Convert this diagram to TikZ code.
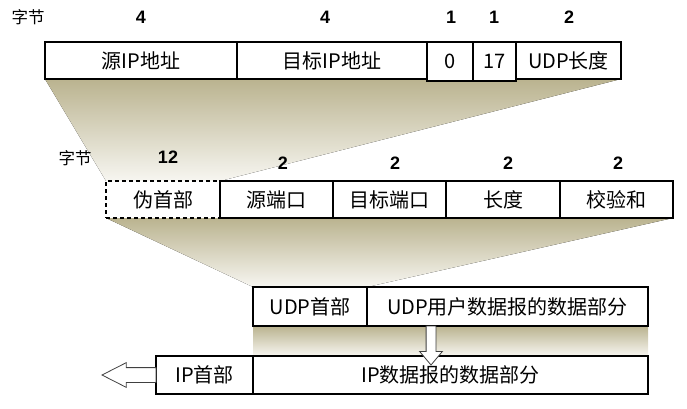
\documentclass[tikz,border=0pt]{standalone}
\usepackage{fontspec}
\setmainfont{Noto Sans CJK SC}
\newfontfamily\numfont{Liberation Sans}
\usetikzlibrary{shapes.arrows,backgrounds}
\definecolor{khaki}{RGB}{186,179,143}
\definecolor{paleshade}{RGB}{247,246,241}
\tikzset{
  cell/.style={draw, line width=1.7pt, fill=white, anchor=north west, inner sep=0pt, outer sep=0pt, font=\fontsize{20}{23}\selectfont},
  pseudocell/.style={cell, dash pattern=on 4pt off 3pt},
  bytelabel/.style={font=\numfont\bfseries\fontsize{18}{21}\selectfont},
  unitlabel/.style={font=\fontsize{16.5}{19}\selectfont},
  fanshade/.style={top color=khaki, bottom color=paleshade},
  hollowarrow/.style={single arrow, draw=black!75, line width=0.8pt, fill=white, anchor=tail, outer sep=0pt}
}

\begin{document}
\begin{tikzpicture}[x=1pt, y=-1pt]
  \useasboundingbox (0,0) rectangle (687,408);
  % pseudo header fields
  \node[unitlabel] (unit1) at (28,17) {字节};
  \node[bytelabel] (n1) at (141,17) {4};
  \node[bytelabel] (n2) at (325,17) {4};
  \node[bytelabel] (n3) at (451,17) {1};
  \node[bytelabel] (n4) at (494,17) {1};
  \node[bytelabel] (n5) at (569,17) {2};
  \node[cell, minimum width=192, minimum height=37] (srcip) at (45,42) {源IP地址};
  \node[cell, minimum width=190, minimum height=37] (dstip) at (237,42) {目标IP地址};
  \node[cell, minimum width=46, minimum height=39] (zero) at (427,42) {0};
  \node[cell, minimum width=43, minimum height=39] (proto) at (473,42) {17};
  \node[cell, minimum width=105, minimum height=37] (udplen) at (516,42) {UDP长度};
  % UDP header fields
  \node[unitlabel] (unit2) at (75,158) {字节};
  \node[bytelabel] (m1) at (168,157) {12};
  \node[bytelabel] (m2) at (283,163) {2};
  \node[bytelabel] (m3) at (395,163) {2};
  \node[bytelabel] (m4) at (508,163) {2};
  \node[bytelabel] (m5) at (618,163) {2};
  \node[pseudocell, minimum width=114, minimum height=37] (pseudo) at (106,181) {伪首部};
  \node[cell, minimum width=113, minimum height=37] (srcport) at (220,181) {源端口};
  \node[cell, minimum width=113, minimum height=37] (dstport) at (333,181) {目标端口};
  \node[cell, minimum width=114, minimum height=37] (length) at (446,181) {长度};
  \node[cell, minimum width=113, minimum height=37] (checksum) at (560,181) {校验和};
  % UDP datagram and IP datagram
  \node[cell, minimum width=114, minimum height=39] (udphdr) at (253,287) {UDP首部};
  \node[cell, minimum width=281, minimum height=39] (udpdata) at (367,287) {UDP用户数据报的数据部分};
  \node[cell, minimum width=97, minimum height=38] (iphdr) at (156,356) {IP首部};
  \node[cell, minimum width=395, minimum height=38] (ipdata) at (253,356) {IP数据报的数据部分};
  \begin{scope}[on background layer]
    \fill[fanshade] (srcip.south west) -- (udplen.south east) -- (pseudo.north east) -- (pseudo.north west) -- cycle;
    \fill[fanshade] (pseudo.south west) -- (checksum.south east) -- (udphdr.north east) -- (udphdr.north west) -- cycle;
    \fill[fanshade] (udphdr.south west) rectangle (ipdata.north east);
  \end{scope}
  \node[hollowarrow, rotate=-90, minimum height=39, inner sep=4.5pt, single arrow head extend=6.5pt, single arrow tip angle=80] (downarr) at (431,326) {};
  \node[hollowarrow, rotate=180, minimum height=54, inner sep=7pt, single arrow head extend=5pt, single arrow tip angle=54] (leftarr) at (iphdr.west) {};
\end{tikzpicture}
\end{document}
